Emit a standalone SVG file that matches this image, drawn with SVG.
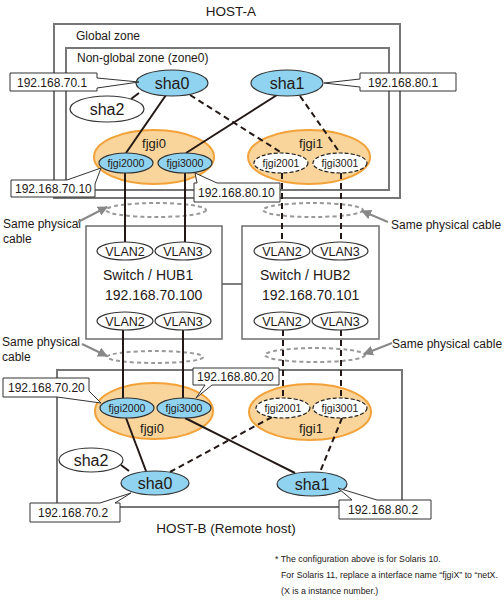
<svg xmlns="http://www.w3.org/2000/svg" width="504" height="606" viewBox="0 0 504 606">
<defs>
<style>
text{font-family:"Liberation Sans",Arial,sans-serif;fill:#231815}
.zone{fill:none;stroke:#777;stroke-width:2}
.sw{fill:#fff;stroke:#6d6d6d;stroke-width:1.5}
.sha{fill:#8fd3f0;stroke:#333;stroke-width:1.2}
.wht{fill:#fff;stroke:#333;stroke-width:1.2}
.wdash{fill:#fff;stroke:#222;stroke-width:1.2;stroke-dasharray:4,2}
.grp{fill:#f9d59c;stroke:#f2a238;stroke-width:2}
.call{fill:#fff;stroke:#333;stroke-width:1}
.cab{fill:none;stroke:#999;stroke-width:2;stroke-dasharray:4,3}
.ln{stroke:#231815;stroke-width:2;fill:none}
.dl{stroke:#231815;stroke-width:2;fill:none;stroke-dasharray:6,4}
.ar{stroke:#888;stroke-width:2;fill:none;marker-end:url(#ah)}
.ip{font-size:12px}
.sh{font-size:16px;text-anchor:middle}
.fj{font-size:10.5px;text-anchor:middle}
.gl{font-size:13px;text-anchor:middle}
.vl{font-size:12.5px;text-anchor:middle}
.swt{font-size:14px}
.lb{font-size:12px}
.note{font-size:8.8px}
</style>
<marker id="ah" viewBox="0 0 10 10" refX="9" refY="5" markerWidth="5" markerHeight="5" orient="auto" markerUnits="strokeWidth">
<path d="M0,0 L10,5 L0,10 Z" fill="#888"/>
</marker>
</defs>

<!-- zones / boxes -->
<g id="host-a">
<text x="231" y="16" style="font-size:13.5px;text-anchor:middle">HOST-A</text>
<rect class="zone" x="54" y="24" width="346" height="174"/>
<text class="lb" x="76" y="40">Global zone</text>
<rect class="zone" x="66" y="48" width="323" height="142"/>
<text class="lb" x="77" y="62">Non-global zone (zone0)</text>
</g>
<g id="host-b">
<rect class="zone" x="57" y="370" width="345" height="137"/>
<text x="226" y="533" style="font-size:13.5px;text-anchor:middle">HOST-B (Remote host)</text>
</g>
<g id="hub1">
<rect class="sw" x="86" y="226" width="136" height="113"/>
<text class="swt" x="103" y="280">Switch / HUB1</text>
<text class="swt" x="105" y="300">192.168.70.100</text>
</g>
<g id="hub2">
<rect class="sw" x="242" y="226" width="137" height="113"/>
<text class="swt" x="260" y="280">Switch / HUB2</text>
<text class="swt" x="262" y="300">192.168.70.101</text>
</g>

<!-- fjgi groups (orange) -->
<g id="a-fjgi0"><ellipse class="grp" cx="154" cy="157" rx="60" ry="27"/><text class="gl" x="154" y="148">fjgi0</text></g>
<g id="a-fjgi1"><ellipse class="grp" cx="309" cy="157" rx="61" ry="27"/><text class="gl" x="311" y="148">fjgi1</text></g>
<g id="b-fjgi0"><ellipse class="grp" cx="154" cy="411" rx="59" ry="28"/><text class="gl" x="152" y="433">fjgi0</text></g>
<g id="b-fjgi1"><ellipse class="grp" cx="310" cy="412" rx="61" ry="28"/><text class="gl" x="311" y="433">fjgi1</text></g>

<!-- same physical cable markers -->
<g id="cables">
<ellipse class="cab" cx="156" cy="210" rx="50" ry="7"/>
<ellipse class="cab" cx="313" cy="210" rx="50" ry="7"/>
<ellipse class="cab" cx="155" cy="357" rx="48" ry="6"/>
<ellipse class="cab" cx="315" cy="355" rx="50" ry="7"/>
<text class="lb" x="3" y="228">Same physical</text>
<text class="lb" x="3" y="243">cable</text>
<text class="lb" x="391" y="229">Same physical cable</text>
<text class="lb" x="2" y="346">Same physical</text>
<text class="lb" x="2" y="361">cable</text>
<text class="lb" x="392" y="348">Same physical cable</text>
<line class="ar" x1="78" y1="222" x2="107" y2="207"/>
<line class="ar" x1="388" y1="222" x2="362" y2="211"/>
<line class="ar" x1="82" y1="344" x2="107" y2="356"/>
<line class="ar" x1="392" y1="343" x2="364" y2="354"/>
</g>

<!-- connectors -->
<g id="connectors">
<line class="ln" x1="139" y1="93" x2="131" y2="99"/>
<line class="ln" x1="166" y1="95" x2="126" y2="153"/>
<line class="ln" x1="277" y1="95" x2="186" y2="153"/>
<line class="dl" x1="190" y1="95" x2="282" y2="153"/>
<line class="dl" x1="300" y1="96" x2="340" y2="153"/>
<line class="ln" x1="125" y1="173" x2="125" y2="242"/>
<line class="ln" x1="185" y1="173" x2="185" y2="242"/>
<line class="dl" x1="282" y1="173" x2="282" y2="242"/>
<line class="dl" x1="341" y1="173" x2="341" y2="242"/>
<line x1="222" y1="284" x2="242" y2="284" stroke="#555" stroke-width="1.5"/>
<line class="ln" x1="123" y1="330" x2="123" y2="398"/>
<line class="ln" x1="183" y1="330" x2="183" y2="398"/>
<line class="dl" x1="283" y1="330" x2="283" y2="398"/>
<line class="dl" x1="341" y1="330" x2="341" y2="398"/>
<line class="ln" x1="126" y1="418" x2="146" y2="471"/>
<line class="ln" x1="121" y1="465" x2="129" y2="471"/>
<line class="ln" x1="185" y1="418" x2="295" y2="473"/>
<line class="dl" x1="272" y1="417" x2="170" y2="472"/>
<line class="dl" x1="342" y1="418" x2="320" y2="472"/>
</g>

<!-- HOST-A nodes -->
<g id="a-sha0"><ellipse class="sha" cx="172" cy="83" rx="36" ry="13"/><text class="sh" x="172" y="89">sha0</text></g>
<g id="a-sha2"><ellipse class="wht" cx="107" cy="109" rx="37" ry="13"/><text class="sh" x="107" y="115">sha2</text></g>
<g id="a-sha1"><ellipse class="sha" cx="287" cy="83" rx="36" ry="13"/><text class="sh" x="287" y="89">sha1</text></g>
<g id="a-fjgi2000"><ellipse class="sha" cx="126" cy="163" rx="27" ry="10"/><text class="fj" x="126" y="167">fjgi2000</text></g>
<g id="a-fjgi3000"><ellipse class="sha" cx="185" cy="163" rx="27" ry="10"/><text class="fj" x="185" y="167">fjgi3000</text></g>
<g id="a-fjgi2001"><ellipse class="wdash" cx="281" cy="163" rx="27" ry="10"/><text class="fj" x="281" y="167">fjgi2001</text></g>
<g id="a-fjgi3001"><ellipse class="wdash" cx="340" cy="163" rx="27" ry="10"/><text class="fj" x="340" y="167">fjgi3001</text></g>

<!-- VLANs -->
<g id="hub1-vlan2-top"><ellipse class="wht" cx="125" cy="251" rx="28" ry="9"/><text class="vl" x="125" y="256">VLAN2</text></g>
<g id="hub1-vlan3-top"><ellipse class="wht" cx="183" cy="251" rx="28" ry="9"/><text class="vl" x="183" y="256">VLAN3</text></g>
<g id="hub1-vlan2-bot"><ellipse class="wht" cx="125" cy="321" rx="28" ry="9"/><text class="vl" x="125" y="326">VLAN2</text></g>
<g id="hub1-vlan3-bot"><ellipse class="wht" cx="183" cy="321" rx="28" ry="9"/><text class="vl" x="183" y="326">VLAN3</text></g>
<g id="hub2-vlan2-top"><ellipse class="wht" cx="282" cy="251" rx="28" ry="9"/><text class="vl" x="282" y="256">VLAN2</text></g>
<g id="hub2-vlan3-top"><ellipse class="wht" cx="340" cy="251" rx="28" ry="9"/><text class="vl" x="340" y="256">VLAN3</text></g>
<g id="hub2-vlan2-bot"><ellipse class="wht" cx="282" cy="321" rx="28" ry="9"/><text class="vl" x="282" y="326">VLAN2</text></g>
<g id="hub2-vlan3-bot"><ellipse class="wht" cx="340" cy="321" rx="28" ry="9"/><text class="vl" x="340" y="326">VLAN3</text></g>

<!-- HOST-B nodes -->
<g id="b-fjgi2000"><ellipse class="sha" cx="127" cy="408" rx="27" ry="10"/><text class="fj" x="127" y="412">fjgi2000</text></g>
<g id="b-fjgi3000"><ellipse class="sha" cx="184" cy="408" rx="27" ry="10"/><text class="fj" x="184" y="412">fjgi3000</text></g>
<g id="b-fjgi2001"><ellipse class="wdash" cx="283" cy="408" rx="27" ry="10"/><text class="fj" x="283" y="412">fjgi2001</text></g>
<g id="b-fjgi3001"><ellipse class="wdash" cx="340" cy="408" rx="27" ry="10"/><text class="fj" x="340" y="412">fjgi3001</text></g>
<g id="b-sha2"><ellipse class="wht" cx="91" cy="460" rx="32" ry="12"/><text class="sh" x="91" y="466">sha2</text></g>
<g id="b-sha0"><ellipse class="sha" cx="155" cy="483" rx="34" ry="12"/><text class="sh" x="155" y="489">sha0</text></g>
<g id="b-sha1"><ellipse class="sha" cx="312" cy="484" rx="35" ry="12"/><text class="sh" x="312" y="490">sha1</text></g>

<!-- address callouts -->
<g id="ip-a-sha0"><path class="call" d="M10,73 H97 V78 L139,82 L97,88 V91 H10 Z"/><text class="ip" x="17" y="87">192.168.70.1</text></g>
<g id="ip-a-sha1"><path class="call" d="M360,73 H456 V91 H360 V87 L324,83 L360,79 Z"/><text class="ip" x="368" y="87">192.168.80.1</text></g>
<g id="ip-a-fjgi2000"><path class="call" d="M11,180 H67 L101,168 L95,184 V197 H11 Z"/><text class="ip" x="15" y="193">192.168.70.10</text></g>
<g id="ip-a-fjgi3000"><path class="call" d="M194,183 H197 L195,173 L217,183 H280 V202 H194 Z"/><text class="ip" x="198" y="197">192.168.80.10</text></g>
<g id="ip-b-fjgi2000"><path class="call" d="M3,378 H89 V391 L101,403 L57,397 H3 Z"/><text class="ip" x="8" y="392">192.168.70.20</text></g>
<g id="ip-b-fjgi3000"><path class="call" d="M193,368 H279 V385 H212 L196,398 L205,385 H193 Z"/><text class="ip" x="197" y="381">192.168.80.20</text></g>
<g id="ip-b-sha0"><path class="call" d="M30,503 H100 L131,493 L115,503 H120 V522 H30 Z"/><text class="ip" x="38" y="517">192.168.70.2</text></g>
<g id="ip-b-sha1"><path class="call" d="M339,500 H352 L338,488 L377,500 H431 V519 H339 Z"/><text class="ip" x="348" y="514">192.168.80.2</text></g>

<!-- footnote -->
<g id="note">
<text class="note" x="275" y="562">* The configuration above is for Solaris 10.</text>
<text class="note" x="281" y="578">For Solaris 11, replace a interface name “fjgiX” to “netX.</text>
<text class="note" x="281" y="594">(X is a instance number.)</text>
</g>
</svg>
